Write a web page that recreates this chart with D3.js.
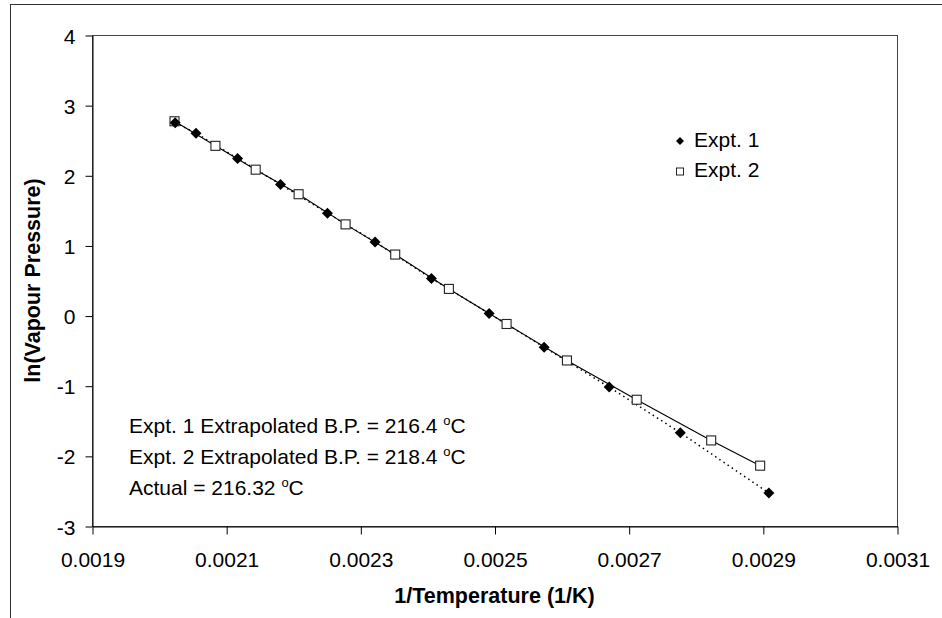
<!DOCTYPE html>
<html>
<head>
<meta charset="utf-8">
<script src="https://cdn.jsdelivr.net/npm/d3@7"></script>
<style>
  body { margin: 0; background: #fff; }
  text { font-family: "Liberation Sans", Arial, sans-serif; fill: #000; }
</style>
</head>
<body>
<script>
// data
const expt1X = [0.002024, 0.002055, 0.002117, 0.002181, 0.002251, 0.002322, 0.002406, 0.002492, 0.002574, 0.002671, 0.002777, 0.002909];
const expt1Y = [2.75, 2.60, 2.24, 1.87, 1.46, 1.05, 0.53, 0.03, -0.45, -1.02, -1.67, -2.53];
const expt2X = [0.002023, 0.002084, 0.002144, 0.002208, 0.002278, 0.002352, 0.002432, 0.002518, 0.002608, 0.002712, 0.002823, 0.002896];
const expt2Y = [2.77, 2.42, 2.08, 1.73, 1.30, 0.87, 0.38, -0.12, -0.64, -1.20, -1.78, -2.14];
const xTicks = [0.0019, 0.0021, 0.0023, 0.0025, 0.0027, 0.0029, 0.0031];
const yTicks = [-3, -2, -1, 0, 1, 2, 3, 4];
const seriesNames = ["Expt. 1", "Expt. 2"];
const notes = [
  ["Expt. 1 Extrapolated B.P. = 216.4 ", "C"],
  ["Expt. 2 Extrapolated B.P. = 218.4 ", "C"],
  ["Actual = 216.32 ", "C"]
];

const width = 942, height = 618;
const plot = {left: 92, top: 35, right: 897, bottom: 526};

const svg = d3.select("body").append("svg")
    .attr("width", width)
    .attr("height", height);

// outer chart frame (cut off at right and bottom)
svg.append("rect")
    .attr("x", 10.5).attr("y", 4.5)
    .attr("width", 1000).attr("height", 1000)
    .attr("fill", "none")
    .attr("stroke", "#333")
    .attr("stroke-width", 1);

const x = d3.scaleLinear().domain([0.0019, 0.0031]).range([plot.left, plot.right]);
const y = d3.scaleLinear().domain([-3, 4]).range([plot.bottom, plot.top]);

// plot area border
svg.append("rect")
    .attr("x", plot.left + 0.5).attr("y", plot.top + 0.5)
    .attr("width", plot.right - plot.left).attr("height", plot.bottom - plot.top)
    .attr("fill", "none")
    .attr("stroke", "#444");

// axes (plain hyphen for negatives, like the original)
const xAxis = svg.append("g")
    .attr("transform", `translate(0.5,${plot.bottom + 0.5})`)
    .call(d3.axisBottom(x).tickValues(xTicks).tickFormat(d => d.toFixed(4))
        .tickSize(8).tickSizeOuter(0).tickPadding(18));
const yAxis = svg.append("g")
    .attr("transform", `translate(${plot.left + 0.5},0.5)`)
    .call(d3.axisLeft(y).tickValues(yTicks).tickFormat(d => String(d))
        .tickSize(7).tickSizeOuter(0).tickPadding(10));

[xAxis, yAxis].forEach(a => {
    a.selectAll("path, line").attr("stroke", "#000");
    a.selectAll("text")
        .style("font-family", "'Liberation Sans', Arial, sans-serif")
        .style("font-size", "21px")
        .attr("fill", "#000");
});
yAxis.selectAll("text").attr("dy", "0.36em");

// axis titles
svg.append("text")
    .attr("x", (plot.left + plot.right) / 2)
    .attr("y", 603)
    .attr("text-anchor", "middle")
    .style("font-size", "21.5px")
    .style("font-weight", "bold")
    .text("1/Temperature (1/K)");

svg.append("text")
    .attr("transform", `translate(40,${(plot.top + plot.bottom) / 2}) rotate(-90)`)
    .attr("text-anchor", "middle")
    .style("font-size", "21.5px")
    .style("font-weight", "bold")
    .text("ln(Vapour Pressure)");

const pts1 = expt1X.map((v, i) => [v, expt1Y[i]]);
const pts2 = expt2X.map((v, i) => [v, expt2Y[i]]);
const line = d3.line().x(d => x(d[0])).y(d => y(d[1]));

// connecting lines
svg.append("path")
    .datum(pts1)
    .attr("d", line)
    .attr("fill", "none")
    .attr("stroke", "#000")
    .attr("stroke-width", 1.5)
    .attr("stroke-dasharray", "1.5,3.5");

svg.append("path")
    .datum(pts2)
    .attr("d", line)
    .attr("fill", "none")
    .attr("stroke", "#000")
    .attr("stroke-width", 1.1);

// markers
const diamond = s => `M0,${-s}L${s},0L0,${s}L${-s},0Z`;

svg.selectAll(".sq")
    .data(pts2)
    .enter().append("rect")
    .attr("class", "sq")
    .attr("x", d => x(d[0]) - 4.5)
    .attr("y", d => y(d[1]) - 4.5)
    .attr("width", 9).attr("height", 9)
    .attr("fill", "#fff")
    .attr("stroke", "#222")
    .attr("stroke-width", 1.1);

svg.selectAll(".dm")
    .data(pts1)
    .enter().append("path")
    .attr("class", "dm")
    .attr("transform", d => `translate(${x(d[0])},${y(d[1])})`)
    .attr("d", diamond(5.5))
    .attr("fill", "#000");

// legend
const legend = svg.append("g").attr("transform", "translate(680,0)");
legend.append("path")
    .attr("transform", "translate(0,141)")
    .attr("d", diamond(4))
    .attr("fill", "#000");
legend.append("rect")
    .attr("x", -3.5).attr("y", 168)
    .attr("width", 7).attr("height", 7)
    .attr("fill", "#fff")
    .attr("stroke", "#222");
legend.selectAll("text")
    .data(seriesNames)
    .enter().append("text")
    .attr("x", 14)
    .attr("y", (d, i) => 147 + i * 30)
    .style("font-size", "21px")
    .text(d => d);

// annotation lines
const note = svg.selectAll(".note")
    .data(notes)
    .enter().append("text")
    .attr("class", "note")
    .attr("x", 129)
    .attr("y", (d, i) => 433 + i * 31)
    .style("font-size", "21px");
note.append("tspan").text(d => d[0]);
note.append("tspan").attr("dy", -8).style("font-size", "13px").text("o");
note.append("tspan").attr("dy", 8).text(d => d[1]);
</script>
</body>
</html>
